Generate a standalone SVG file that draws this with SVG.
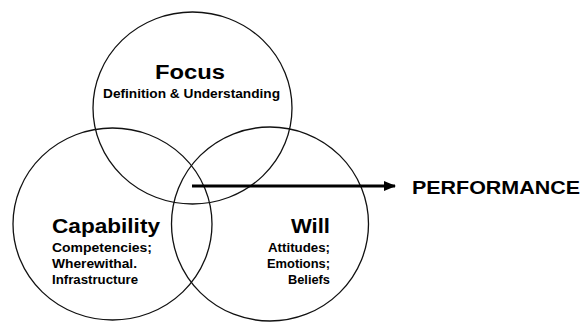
<svg xmlns="http://www.w3.org/2000/svg" width="585" height="322" viewBox="0 0 585 322">
<defs>
<style>
.ring{fill:none;stroke:#111;stroke-width:1.3}
.t{font-family:"Liberation Sans",Arial,sans-serif;font-weight:bold;fill:#000}
.h{font-size:20px}
.s{font-size:12px}
.p{font-size:18px}
</style>
<marker id="ah" markerWidth="12" markerHeight="10" refX="11" refY="5" orient="auto" markerUnits="userSpaceOnUse">
<path d="M0,0 L12,5 L0,10 Z" fill="#000"/>
</marker>
</defs>
<rect width="585" height="322" fill="#fff"/>
<g id="focus">
<ellipse class="ring" cx="192.5" cy="108" rx="99.5" ry="96"/>
<text class="t h" x="155" y="79" textLength="70" lengthAdjust="spacingAndGlyphs">Focus</text>
<text class="t s" x="103" y="98" textLength="177" lengthAdjust="spacingAndGlyphs">Definition &amp; Understanding</text>
</g>
<g id="capability">
<ellipse class="ring" cx="112.5" cy="224" rx="99.5" ry="96"/>
<text class="t h" x="52" y="233" textLength="108" lengthAdjust="spacingAndGlyphs">Capability</text>
<text class="t s" x="52" y="252" textLength="100" lengthAdjust="spacingAndGlyphs">Competencies;</text>
<text class="t s" x="52" y="268" textLength="85" lengthAdjust="spacingAndGlyphs">Wherewithal.</text>
<text class="t s" x="52" y="284" textLength="86" lengthAdjust="spacingAndGlyphs">Infrastructure</text>
</g>
<g id="will">
<ellipse class="ring" cx="270" cy="224" rx="98.5" ry="97"/>
<text class="t h" x="291" y="233" textLength="39" lengthAdjust="spacingAndGlyphs">Will</text>
<text class="t s" x="268" y="252" textLength="62" lengthAdjust="spacingAndGlyphs">Attitudes;</text>
<text class="t s" x="267" y="268" textLength="63" lengthAdjust="spacingAndGlyphs">Emotions;</text>
<text class="t s" x="288" y="284" textLength="42" lengthAdjust="spacingAndGlyphs">Beliefs</text>
</g>
<g id="performance">
<text class="t p" x="412" y="194" textLength="168" lengthAdjust="spacingAndGlyphs">PERFORMANCE</text>
</g>
<g id="connectors">
<line x1="192" y1="186" x2="395" y2="186" stroke="#000" stroke-width="3" marker-end="url(#ah)"/>
</g>
</svg>
